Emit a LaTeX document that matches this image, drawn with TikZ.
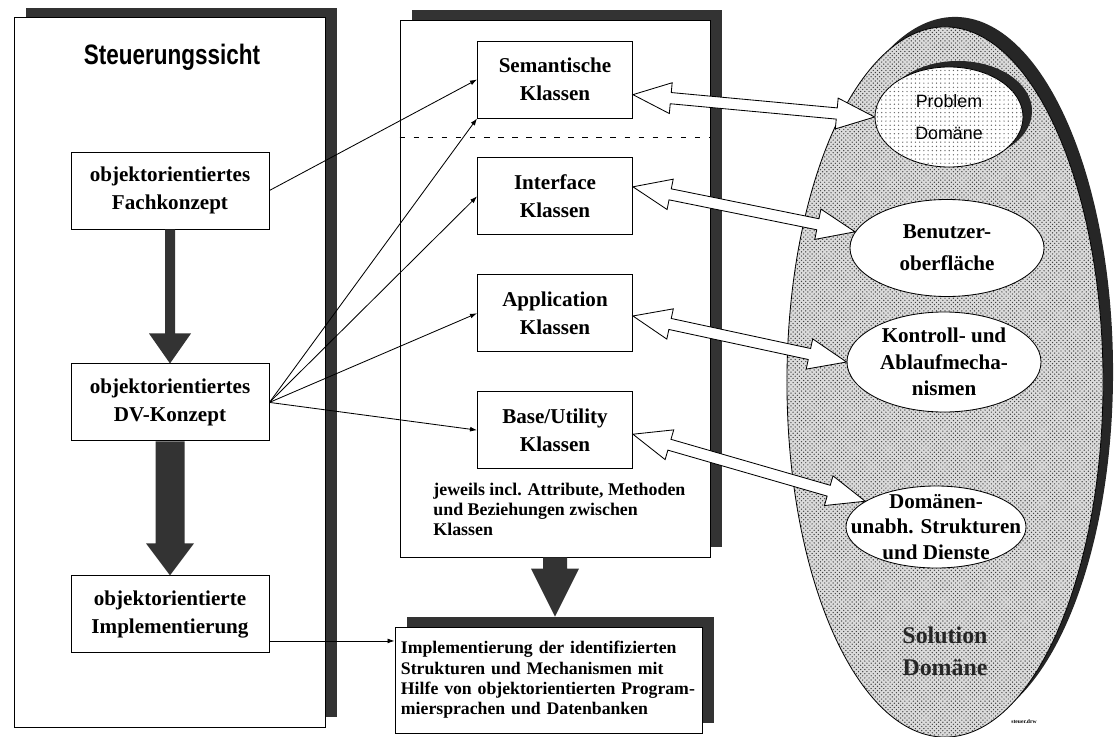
\documentclass[tikz,border=0pt]{standalone}
\usepackage{fontspec}
\setmainfont{Liberation Serif}
\setsansfont{Liberation Sans}
\usetikzlibrary{arrows.meta,calc,positioning,patterns,shapes.geometric,shadows}

\begin{document}
\begin{tikzpicture}[x=0.025cm,y=-0.025cm,semithick,>={Latex[length=5pt,width=3.5pt]},
  panel/.style={draw,fill=white,general shadow={fill=black!80,shadow xshift=3mm,shadow yshift=2.5mm}},
  box/.style={draw,fill=white,minimum width=49.5mm,minimum height=19.25mm,align=center,font=\bfseries\fontsize{15}{20}\selectfont},
  kbox/.style={box,minimum width=38.75mm},
  oval/.style={draw,ellipse,fill=white,inner sep=0pt},
  otext/.style={align=center,font=\bfseries\fontsize{15}{20}\selectfont},
  arr/.style={->},
  fat/.style n args={3}{fill=black!80,to path={-- ++(-#1,0) -- ($(\tikztotarget)+(-#1,-#3)$) -- ($(\tikztotarget)+(-#2,-#3)$) -- (\tikztotarget) -- ($(\tikztotarget)+(#2,-#3)$) -- ($(\tikztotarget)+(#1,-#3)$) -- ($(\tikztostart)+(#1,0)$) -- cycle}},
  hollow/.style={draw,fill=white,to path={
    -- ($(\tikztostart)!27pt!(\tikztotarget)!11pt!90:(\tikztotarget)$)
    -- ($(\tikztostart)!27pt!(\tikztotarget)!4pt!90:(\tikztotarget)$)
    -- ($(\tikztotarget)!27pt!(\tikztostart)!4pt!-90:(\tikztostart)$)
    -- ($(\tikztotarget)!27pt!(\tikztostart)!11pt!-90:(\tikztostart)$)
    -- (\tikztotarget)
    -- ($(\tikztotarget)!27pt!(\tikztostart)!11pt!90:(\tikztostart)$)
    -- ($(\tikztotarget)!27pt!(\tikztostart)!4pt!90:(\tikztostart)$)
    -- ($(\tikztostart)!27pt!(\tikztotarget)!4pt!-90:(\tikztotarget)$)
    -- ($(\tikztostart)!27pt!(\tikztotarget)!11pt!-90:(\tikztotarget)$)
    -- cycle}}]
\useasboundingbox (0,0) rectangle (1114,737);

% the three columns
\node[panel,minimum width=77.75mm,minimum height=177.25mm] (steu) at (169.5,372.5) {};
\node[panel,minimum width=77.5mm,minimum height=134.25mm] (klas) at (555,288.5) {};
\node[draw,ellipse,minimum width=79mm,minimum height=177.5mm,fill=black!14,
  general shadow={fill=black!85,shadow xshift=2.5mm,shadow yshift=2.5mm},
  postaction={pattern=crosshatch dots,pattern color=black!75}] (sol) at (945,382) {};

% Steuerungssicht
\node[font=\sffamily\bfseries\fontsize{16}{20}\selectfont] (title) at (172,57) {\scalebox{1}[1.25]{Steuerungssicht}};
\node[box] (fach) at (170,190.5) {objektorientiertes\\Fachkonzept};
\node[box,below=33.5mm of fach] (dv) {objektorientiertes\\DV-Konzept};
\node[box,below=33.5mm of dv] (impl) {objektorientierte\\Implementierung};

% Klassen
\node[kbox] (sem) at (555,79.5) {Semantische\\Klassen};
\node[kbox,below=9.75mm of sem] (intf) {Interface\\Klassen};
\node[kbox,below=9.75mm of intf] (app) {Application\\Klassen};
\node[kbox,below=9.75mm of app] (base) {Base/Utility\\Klassen};
\node[anchor=north west,inner sep=0pt,align=left,font=\bfseries\fontsize{12.7}{14.2}\selectfont] (incl) at (433,483)
  {jeweils incl. Attribute, Methoden\\und Beziehungen zwischen\\Klassen};
\coordinate (sepy) at (0,137);
\draw[dash pattern=on 4pt off 6pt] (klas.west |- sepy) -- (klas.east |- sepy);

\node[panel,minimum width=76.75mm,minimum height=26.5mm,text width=73.75mm,inner xsep=1.5mm,align=left,
  font=\bfseries\fontsize{12.6}{14.5}\selectfont] (impltxt) at (548.5,680)
  {Implementierung der identifizierten\\Strukturen und Mechanismen mit\\Hilfe von objektorientierten Program-\\miersprachen und Datenbanken};

% Domaenen
\node[oval,minimum width=37mm,minimum height=25mm,
  general shadow={fill=black!85,shadow xshift=2.25mm,shadow yshift=1.5mm},
  postaction={pattern=dots,pattern color=black!60}] (prob) at (949,117) {};
\node[align=center,font=\sffamily\fontsize{12.7}{23}\selectfont] (prob-t) at (prob) {Problem\\Domäne};
\node[oval,minimum width=48.5mm,minimum height=24.25mm] (ben) at (947,248) {};
\node[otext,font=\bfseries\fontsize{15}{23}\selectfont] (ben-t) at (ben) {Benutzer-\\oberfläche};
\node[oval,minimum width=48.5mm,minimum height=25mm] (kon) at (944,362) {};
\node[otext,font=\bfseries\fontsize{15}{19}\selectfont] (kon-t) at (kon) {Kontroll- und\\Ablaufmecha-\\nismen};
\node[oval,minimum width=45mm,minimum height=20.5mm] (dom) at (936,527) {};
\node[otext,font=\bfseries\fontsize{15}{18}\selectfont] (dom-t) at (dom) {Domänen-\\unabh. Strukturen\\und Dienste};
\node[otext,font=\bfseries\fontsize{17}{22.7}\selectfont,text=black!85] (sol-t) at (945,651) {Solution\\Domäne};
\node[font=\bfseries\fontsize{4}{5}\selectfont] (drw) at (1024,722) {steuer.drw};

% thick arrows
\path[fat={5}{21}{30}] (fach.south) to (fach.south |- dv.north);
\path[fat={14.5}{24}{32}] (dv.south) to (dv.south |- impl.north);
\coordinate (tip) at ($(klas.south |- impltxt.north)+(0,-10)$);
\path[fat={12}{24}{48}] (klas.south) to (tip);

% thin arrows
\draw[arr] (fach.east) -- (sem.west);
\draw[arr] (dv.east) -- (sem.south west);
\draw[arr] (dv.east) -- (intf.west);
\draw[arr] (dv.east) -- (app.west);
\draw[arr] (dv.east) -- (base.west);
\draw[arr] (impl.-15) -- (impl.-15 -| impltxt.west);

% hollow arrows
\draw[hollow] (sem.-11) to (prob.west);
\draw[hollow] (intf.7) to (ben.170);
\draw[hollow] (app.-2) to (kon.west);
\draw[hollow] (base.-3) to (dom.160);
\end{tikzpicture}
\end{document}
